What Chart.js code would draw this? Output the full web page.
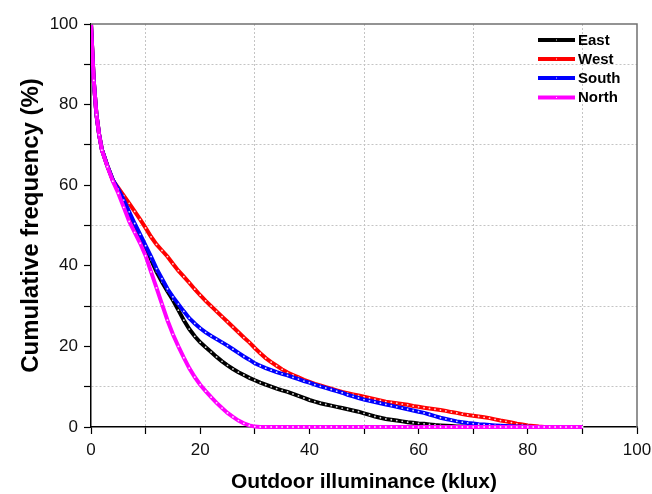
<!DOCTYPE html>
<html>
<head>
<meta charset="utf-8">
<script src="https://cdn.jsdelivr.net/npm/chart.js@4/dist/chart.umd.min.js"></script>
<style>
  html, body { margin: 0; padding: 0; background: #ffffff; }
  #wrap { width: 652px; height: 494px; }
</style>
</head>
<body>
<div id="wrap"><canvas id="c" width="652" height="494"></canvas></div>
<script>
// Outdoor illuminance (klux)
const illuminance = [0,0.5,1,1.5,2,3,4,5,6,7,8,9,10,11,12,13,14,15,16,17,18,19,20,21,22,23,24,25,26,27,28,29,30,31,32,33,34,35,36,37,38,39,40,41,42,43,44,45,46,47,48,49,50,51,52,53,54,55,56,57,58,59,60,61,62,63,64,65,66,67,68,69,70,71,72,73,74,75,76,77,78,79,80,81,82,83,84,85,86,87,88,89,90];

// Cumulative frequency (%)
const east = [100,86,77.5,72.5,68.8,64.8,
  61.3,58.7,56,53,50,47.3,44.5,41.5,38.5,36,33.7,31.5,29,26.5,24.3,22.5,21,19.8,18.6,17.4,16.3,15.3,14.4,13.6,12.9,12.2,11.6,
  11.0,10.5,10.0,9.5,9.1,8.7,8.2,7.7,7.2,6.7,6.3,5.9,5.6,5.3,5.0,4.7,4.4,4.1,3.8,3.4,3.0,2.6,2.3,2.0,1.8,1.6,1.4,1.2,1.05,0.9,
  0.8,0.65,0.5,0.4,0.3,0.22,0.15,0.1,0.05,0,0,0,0,0,0,0,0,0,0,0,0,0,0,0,0,0,0,0,0,0];

const west = [100,86,77.5,72.5,68.8,64.8,
  61.2,59.3,57.4,55.5,53.5,51.5,49.4,47.2,45.3,43.8,42.3,40.5,38.8,37.3,35.8,34.2,32.7,31.3,30,28.7,27.4,26.1,24.8,23.5,22.2,21,19.6,
  18.3,17.1,16.1,15.2,14.3,13.5,12.9,12.3,11.7,11.2,10.7,10.3,9.9,9.5,9.1,8.7,8.4,8.1,7.8,7.5,7.2,6.9,6.6,6.3,6.1,5.9,5.7,5.5,5.2,5.0,
  4.8,4.6,4.4,4.2,4.0,3.7,3.5,3.2,3.0,2.8,2.6,2.4,2.2,1.9,1.6,1.4,1.1,0.8,0.6,0.4,0.25,0.1,0.03,0,0,0,0,0,0,0];

const south = [100,86,77.5,72.5,68.8,64.8,
  61.3,59,56.3,53.4,50.5,47.8,45,42.3,39.3,36.8,34.3,32.3,30.5,28.7,27,25.7,24.5,23.5,22.6,21.8,21,20.2,19.3,18.4,17.5,16.7,15.8,
  15.2,14.6,14.1,13.6,13.2,12.8,12.3,11.9,11.4,11.0,10.5,10.1,9.7,9.3,8.9,8.5,8.0,7.6,7.2,6.8,6.5,6.2,5.9,5.6,5.3,5.0,4.7,4.4,4.1,3.8,
  3.5,3.1,2.7,2.3,2.0,1.7,1.4,1.2,1.0,0.85,0.7,0.6,0.5,0.4,0.32,0.25,0.2,0.15,0.1,0.05,0,0,0,0,0,0,0,0,0,0];

const north = [100,86,77.5,72.5,68.7,64.6,
  61,58,54.5,51,48.3,45.6,42.5,38.5,34.5,30.5,26.5,23,20,17.2,14.6,12.4,10.5,8.9,7.4,6,4.7,3.5,2.5,1.6,0.9,0.4,0.1,
  0,0,0,0,0,0,0,0,0,0,0,0,0,0,0,0,0,0,0,0,0,0,0,0,0,0,0,0,0,0,
  0,0,0,0,0,0,0,0,0,0,0,0,0,0,0,0,0,0,0,0,0,0,0,0,0,0,0,0,0,0];

const seriesNames = ['East', 'West', 'South', 'North'];
const seriesValues = [east, west, south, north];
const seriesColors = ['#000000', '#ff0000', '#0000ff', '#ff00ff'];

const xTickLabels = [0, 20, 40, 60, 80, 100];
const yTickLabels = [0, 20, 40, 60, 80, 100];
const gridValues = [10, 30, 50, 70, 90];

const datasets = seriesNames.map((name, i) => ({
  label: name,
  data: illuminance.map((x, k) => ({ x: x, y: seriesValues[i][k] })),
  borderColor: seriesColors[i],
  backgroundColor: seriesColors[i],
  borderWidth: 4,
  tension: 0,
  pointRadius: 0.9,
  pointBorderWidth: 0,
  pointBackgroundColor: 'rgba(255,255,255,0.85)',
  pointHoverRadius: 0,
  order: seriesNames.length - i,
  clip: { left: 0, top: 3, right: 5, bottom: 5 }
}));

const framePlugin = {
  id: 'frame',
  afterDatasetsDraw(chart) {
    const { ctx, chartArea: a } = chart;
    ctx.save();
    ctx.strokeStyle = '#707070';
    ctx.lineWidth = 1.5;
    ctx.beginPath();
    ctx.moveTo(a.left, a.top);
    ctx.lineTo(a.right, a.top);
    ctx.lineTo(a.right, a.bottom);
    ctx.stroke();
    ctx.restore();

    // legend
    const x0 = 538, x1 = 575, ys = [40, 59, 78, 97.5];
    ctx.save();
    ctx.font = 'bold 15px "Liberation Sans", Arial, sans-serif';
    ctx.textBaseline = 'middle';
    ctx.textAlign = 'left';
    seriesNames.forEach((name, i) => {
      ctx.strokeStyle = seriesColors[i];
      ctx.lineWidth = 4;
      ctx.beginPath();
      ctx.moveTo(x0, ys[i]);
      ctx.lineTo(x1, ys[i]);
      ctx.stroke();
      ctx.fillStyle = 'rgba(255,255,255,0.85)';
      ctx.fillRect((x0 + x1) / 2 - 0.5, ys[i] - 0.5, 1, 1);
      ctx.fillStyle = '#000';
      ctx.fillText(name, 578, ys[i] + 0.5);
    });
    ctx.restore();
  }
};

const tickFont = { family: '"Liberation Sans", Arial, sans-serif', size: 17 };

new Chart(document.getElementById('c'), {
  type: 'line',
  data: { datasets: datasets },
  options: {
    responsive: false,
    animation: false,
    devicePixelRatio: 1,
    events: [],
    layout: { padding: { top: 24, right: 15, left: 0, bottom: 0 } },
    plugins: { legend: { display: false }, tooltip: { enabled: false } },
    scales: {
      x: {
        type: 'linear',
        min: 0, max: 100,
        afterFit(scale) { scale.height = 67; scale.paddingLeft = 0; scale.paddingRight = 0; },
        ticks: {
          stepSize: 10,
          autoSkip: false,
          maxRotation: 0,
          padding: 6,
          color: '#111',
          font: tickFont,
          callback: v => xTickLabels.includes(v) ? String(v) : ''
        },
        grid: {
          color: c => (c.tick && gridValues.includes(c.tick.value)) ? '#c4c4c4' : 'rgba(0,0,0,0)',
          lineWidth: 1,
          tickColor: '#000',
          tickLength: 7,
          tickWidth: 1.2
        },
        border: { display: true, color: '#000', width: 1.5, dash: [2, 2] },
        title: {
          display: true,
          text: 'Outdoor illuminance (klux)',
          color: '#000',
          font: { family: '"Liberation Sans", Arial, sans-serif', size: 21, weight: 'bold', lineHeight: 1.1 },
          padding: { top: 0, bottom: 0 }
        }
      },
      y: {
        type: 'linear',
        min: 0, max: 100,
        afterFit(scale) { scale.width = 91; scale.paddingTop = 0; scale.paddingBottom = 0; },
        ticks: {
          stepSize: 10,
          autoSkip: false,
          padding: 6,
          color: '#111',
          font: tickFont,
          callback: v => yTickLabels.includes(v) ? String(v) : ''
        },
        grid: {
          color: c => (c.tick && gridValues.includes(c.tick.value)) ? '#c4c4c4' : 'rgba(0,0,0,0)',
          lineWidth: 1,
          tickColor: '#000',
          tickLength: 7,
          tickWidth: 1.2
        },
        border: { display: true, color: '#000', width: 1.5, dash: [2, 2] },
        title: {
          display: true,
          text: 'Cumulative frequency (%)',
          color: '#000',
          font: { family: '"Liberation Sans", Arial, sans-serif', size: 24, weight: 'bold', lineHeight: 1.2 },
          padding: { top: 17, bottom: 0 }
        }
      }
    }
  },
  plugins: [framePlugin]
});
</script>
</body>
</html>
